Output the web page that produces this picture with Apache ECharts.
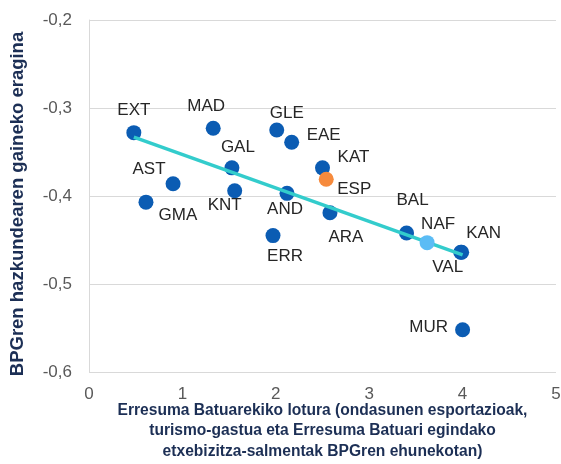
<!DOCTYPE html>
<html lang="eu">
<head>
<meta charset="UTF-8">
<title>BPGren hazkundearen gaineko eragina</title>
<script src="https://cdn.jsdelivr.net/npm/echarts@6/dist/echarts.min.js"></script>
<style>
  html, body { margin: 0; padding: 0; background: #fff; }
</style>
</head>
<body>
<div id="main" style="width: 561px;height:464px;"></div>
<script>
// eskualdeak eta balioak (x: lotura % BPG, y: eragina)
var regions = ['EXT', 'MAD', 'GLE', 'EAE', 'GAL', 'AST', 'KNT', 'GMA', 'AND', 'KAT', 'ARA', 'ERR', 'BAL', 'KAN', 'VAL', 'MUR'];
var linkX   = [0.48, 1.33, 2.01, 2.17, 1.53, 0.90, 1.56, 0.61, 2.12, 2.50, 2.58, 1.97, 3.40, 3.99, 3.98, 4.00];
var impactY = [-0.328, -0.323, -0.325, -0.339, -0.368, -0.386, -0.394, -0.407, -0.397, -0.368, -0.419, -0.445, -0.442, -0.464, -0.464, -0.552];

// Espainia eta Nafarroa beste kolore batez
var espX = [2.54], espY = [-0.381];
var nafX = [3.62], nafY = [-0.453];

// joera-lerroa
var trendX = [0.48, 4.0];
var trendY = [-0.333, -0.467];

var yTicks = [-0.6, -0.5, -0.4, -0.3, -0.2];
var xTicks = [0, 1, 2, 3, 4, 5];

// etiketen kokapena puntuarekiko (px)
var labelOffset = {
  EXT: [0, -22], MAD: [-7, -22], GLE: [10, -17], EAE: [32, -7], GAL: [6, -21],
  AST: [-24, -14], KNT: [-10, 15], GMA: [32, 13], AND: [-2, 16], KAT: [31, -11],
  ARA: [16, 25], ERR: [12, 21], BAL: [6, -33], KAN: [22, -19], VAL: [-13, 15],
  MUR: [-34, -2], ESP: [28, 10], NAF: [11, -18]
};

function points(names, xs, ys) {
  return names.map(function (n, i) {
    return {
      name: n,
      value: [xs[i], ys[i]],
      label: { offset: labelOffset[n] }
    };
  });
}

var labelStyle = {
  show: true,
  position: 'inside',
  formatter: '{b}',
  color: '#262626',
  fontSize: 17,
  fontFamily: 'Liberation Sans'
};

var myChart = echarts.init(document.getElementById('main'));

var option = {
  animation: false,
  grid: { left: 89, right: 5, top: 20, bottom: 92, containLabel: false, outerBoundsMode: 'none' },
  xAxis: {
    type: 'value',
    min: xTicks[0],
    max: xTicks[xTicks.length - 1],
    interval: 1,
    axisLine: { show: false },
    axisTick: { show: false },
    splitLine: { show: false },
    axisLabel: { color: '#595959', fontSize: 17, fontFamily: 'Liberation Sans', margin: 14 },
    name: 'Erresuma Batuarekiko lotura (ondasunen esportazioak,\nturismo-gastua eta Erresuma Batuari egindako\netxebizitza-salmentak BPGren ehunekotan)',
    nameLocation: 'middle',
    nameGap: 28,
    nameMoveOverlap: false,
    nameTextStyle: {
      color: '#1c2f55', fontSize: 15.6, fontWeight: 'bold',
      fontFamily: 'Liberation Sans', lineHeight: 20.5, align: 'center'
    }
  },
  yAxis: {
    type: 'value',
    min: yTicks[0],
    max: yTicks[yTicks.length - 1],
    interval: 0.1,
    axisLine: { show: true, lineStyle: { color: '#d9d9d9' } },
    axisTick: { show: false },
    splitLine: { show: true, lineStyle: { color: '#d9d9d9', width: 1 } },
    axisLabel: {
      color: '#595959', fontSize: 17, fontFamily: 'Liberation Sans', margin: 17,
      formatter: function (v) { return v.toFixed(1).replace('.', ','); }
    },
    name: 'BPGren hazkundearen gaineko eragina',
    nameLocation: 'middle',
    nameGap: 62,
    nameMoveOverlap: false,
    nameTextStyle: {
      color: '#1c2f55', fontSize: 18.5, fontWeight: 'bold', fontFamily: 'Liberation Sans',
      padding: [0, 16, 0, 0]
    }
  },
  series: [
    {
      name: 'eskualdeak',
      type: 'scatter',
      symbolSize: 15,
      itemStyle: { color: '#0b5cb3', opacity: 1 },
      label: labelStyle,
      data: points(regions, linkX, impactY),
      z: 2
    },
    {
      name: 'joera',
      type: 'line',
      symbol: 'none',
      lineStyle: { color: '#33cccc', width: 3.5 },
      data: trendX.map(function (x, i) { return [x, trendY[i]]; }),
      z: 3
    },
    {
      name: 'ESP',
      type: 'scatter',
      symbolSize: 15,
      itemStyle: { color: '#f68a3c', opacity: 1 },
      label: labelStyle,
      data: points(['ESP'], espX, espY),
      z: 4
    },
    {
      name: 'NAF',
      type: 'scatter',
      symbolSize: 15,
      itemStyle: { color: '#5bbcf5', opacity: 1 },
      label: labelStyle,
      data: points(['NAF'], nafX, nafY),
      z: 4
    }
  ]
};

myChart.setOption(option);
</script>
</body>
</html>
